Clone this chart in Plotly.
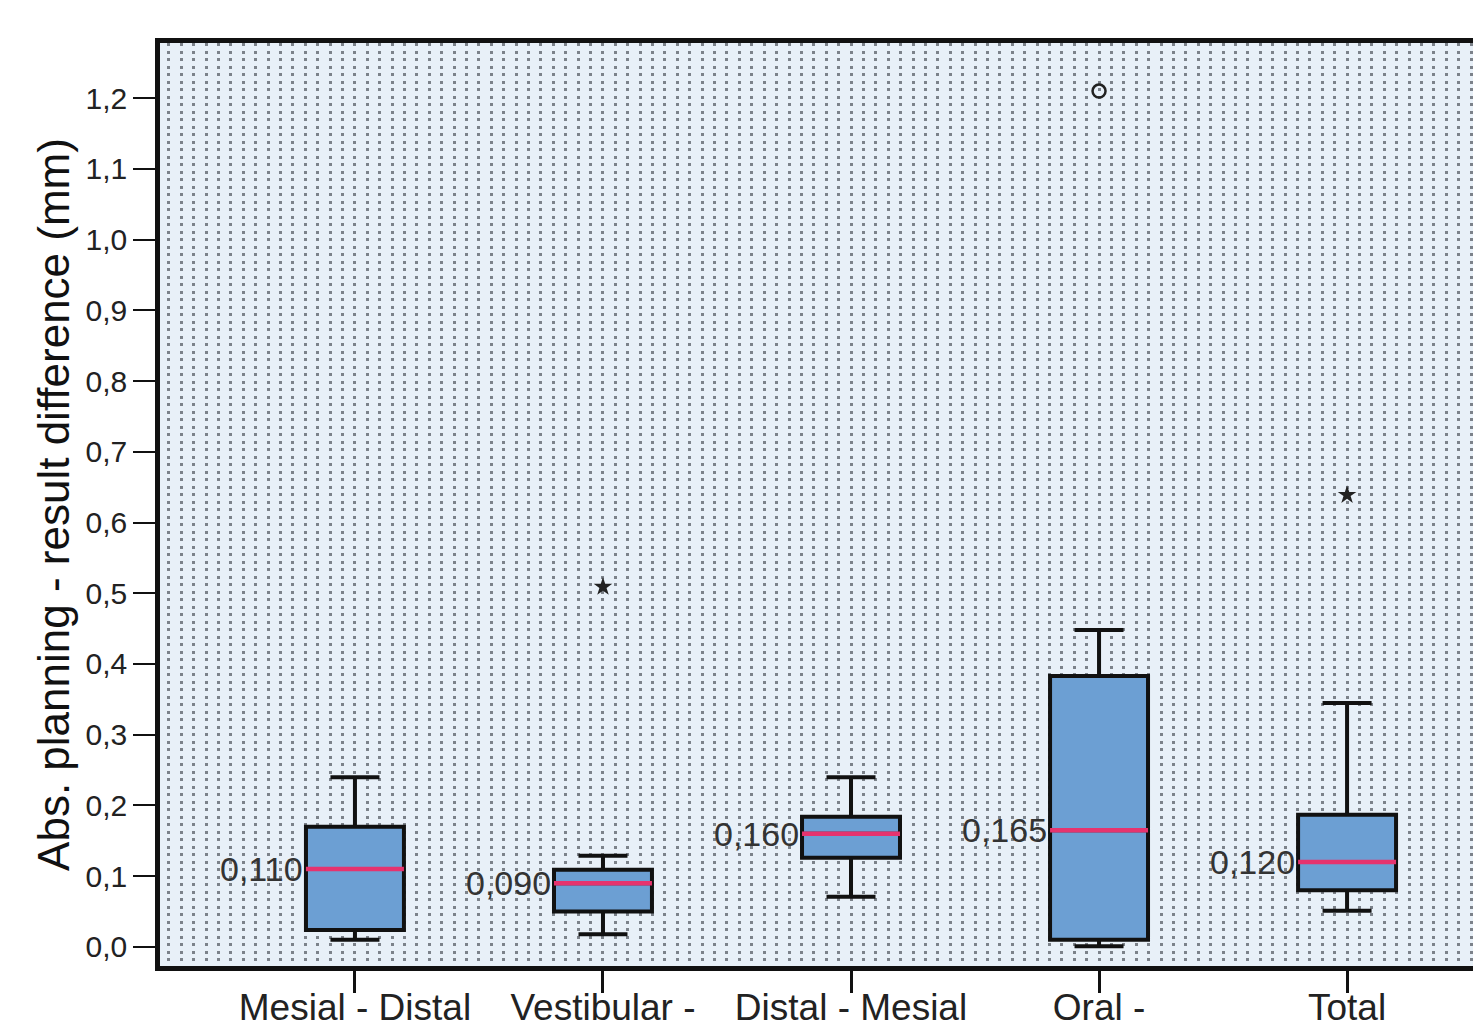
import plotly.graph_objects as go

# ---- data ----
categories = ["Mesial - Distal", "Vestibular -<br>Oral", "Distal - Mesial", "Oral -<br>Vestibular", "Total"]
q1 = [0.024, 0.050, 0.126, 0.010, 0.080]
median = [0.110, 0.090, 0.160, 0.165, 0.120]
q3 = [0.170, 0.109, 0.184, 0.383, 0.187]
lower_whisker = [0.010, 0.018, 0.071, 0.001, 0.051]
upper_whisker = [0.240, 0.129, 0.240, 0.448, 0.345]
# outliers: (category index, value)
extreme_cat = [1, 4]          # shown as stars
extreme_val = [0.509, 0.639]
outlier_cat = [3]             # shown as open circles
outlier_val = [1.210]
y_ticks = [0.0, 0.1, 0.2, 0.3, 0.4, 0.5, 0.6, 0.7, 0.8, 0.9, 1.0, 1.1, 1.2]

# ---- styling ----
BOX_W = 0.395
BOX_FILL = "#6c9fd3"
MEDIAN_COLOR = "#e6336e"
FONT = "Liberation Sans, Arial, sans-serif"

positions = list(range(len(categories)))

fig = go.Figure()

fig.add_trace(go.Box(
    x=positions, q1=q1, median=median, q3=q3,
    lowerfence=lower_whisker, upperfence=upper_whisker,
    width=BOX_W, whiskerwidth=0.5,
    fillcolor=BOX_FILL, line=dict(color="#111111", width=4),
    boxpoints=False, hoverinfo="skip", showlegend=False,
))

# red median lines
mx, my = [], []
for p, m in zip(positions, median):
    mx += [p - BOX_W / 2, p + BOX_W / 2, None]
    my += [m, m, None]
fig.add_trace(go.Scatter(x=mx, y=my, mode="lines",
                         line=dict(color=MEDIAN_COLOR, width=4.5),
                         hoverinfo="skip", showlegend=False))

# extremes (stars) and outliers (circles)
fig.add_trace(go.Scatter(x=extreme_cat, y=extreme_val, mode="markers",
                         marker=dict(symbol="star", size=14, color="#222222"),
                         hoverinfo="skip", showlegend=False))
fig.add_trace(go.Scatter(x=outlier_cat, y=outlier_val, mode="markers",
                         marker=dict(symbol="circle-open", size=13, color="#222222",
                                     line=dict(color="#222222", width=2.5)),
                         hoverinfo="skip", showlegend=False))

# median value labels
for p, m in zip(positions, median):
    fig.add_annotation(x=p - BOX_W / 2, y=m, text=f"{m:.3f}".replace(".", ","),
                       xanchor="right", yanchor="middle", showarrow=False,
                       xshift=-1,
                       font=dict(family=FONT, size=34, color="#333333"))

fig.update_layout(
    width=1473, height=1017,
    margin=dict(l=152, r=0, t=35, b=59),
    paper_bgcolor="white",
    plot_bgcolor="#e8f0f8",
    separators=",.",
    showlegend=False,
    font=dict(family=FONT, color="#222222"),
)

fig.update_xaxes(
    range=[-0.786, 4.54], automargin=False,
    tickmode="array", tickvals=positions, ticktext=categories,
    ticks="outside", ticklen=22, tickwidth=2.5, tickcolor="#111111",
    ticklabelstandoff=-17,
    tickfont=dict(family=FONT, size=37, color="#222222"),
    showline=True, linewidth=4.5, linecolor="#111111", mirror=True,
    showgrid=False, zeroline=False,
    minor=dict(dtick=0.05, tick0=0, showgrid=True, gridcolor="#7c828a",
               gridwidth=2.5, griddash="3px,4.5px", ticks=""),
)

fig.update_yaxes(
    range=[-0.027, 1.278], automargin=False,
    tickmode="array", tickvals=y_ticks,
    ticktext=[f"{v:.1f}".replace(".", ",") for v in y_ticks],
    ticks="outside", ticklen=22, tickwidth=2, tickcolor="#111111",
    tickfont=dict(family=FONT, size=30, color="#222222"),
    showline=True, linewidth=4.5, linecolor="#111111", mirror=False,
    showgrid=False, zeroline=False,
    title=dict(text="Abs. planning - result difference (mm)",
               font=dict(family=FONT, size=44, color="#111111"), standoff=4),
)

fig.write_html("out.html")
